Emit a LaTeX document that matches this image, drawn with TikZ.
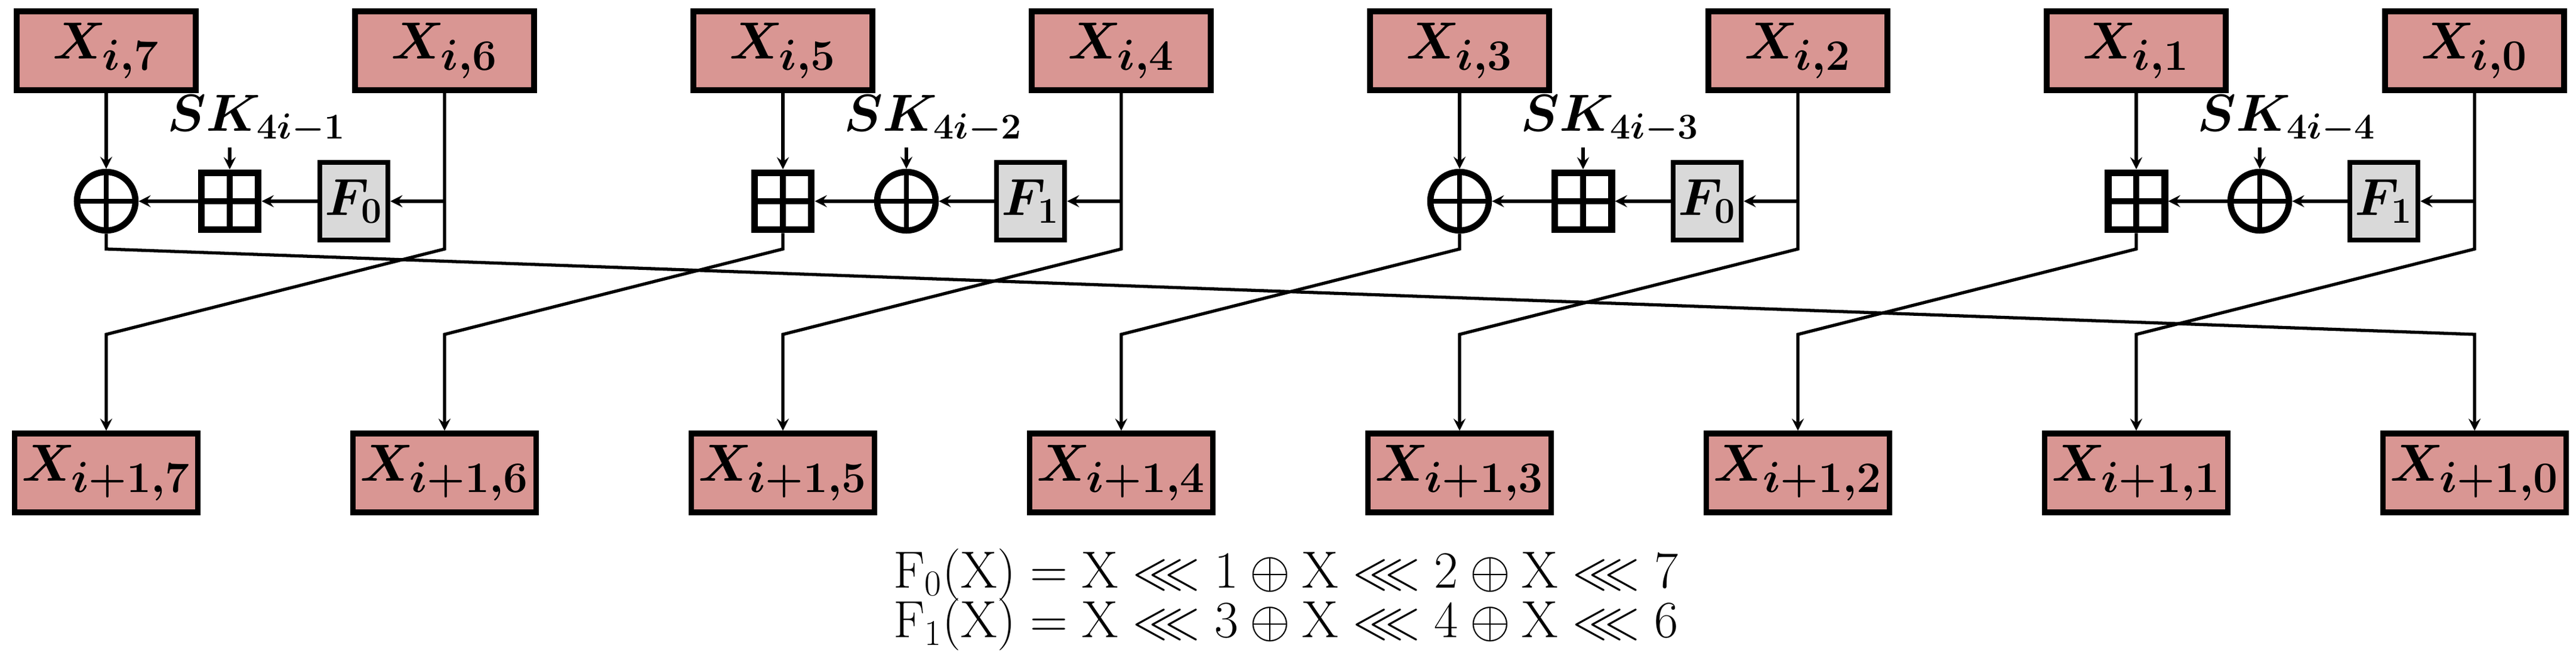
\documentclass[tikz,border=0pt]{standalone}
\usepackage{amsmath,amssymb}
\usepackage{tikz}
\usetikzlibrary{positioning}
\usetikzlibrary{arrows}
\usetikzlibrary{calc}

\definecolor{rose}{RGB}{217,150,147}
\definecolor{fgray}{RGB}{217,217,217}

\begin{document}
\begin{tikzpicture}[>=stealth, line width=1.5pt]

\tikzstyle{word}=[rectangle, draw, line width=2.6pt, fill=rose, minimum width=3cm, minimum height=1.32cm, font=\fontsize{28}{30}\selectfont\boldmath]
\tikzstyle{fbox}=[rectangle, draw, line width=2.4pt, fill=fgray, minimum width=1.14cm, minimum height=1.3cm, inner sep=0pt, font=\fontsize{24}{26}\selectfont\boldmath]
\tikzstyle{xorop}=[circle, draw, line width=3pt, minimum size=0.98cm, inner sep=0pt, path picture={\draw[line width=2.5pt] (path picture bounding box.north) -- (path picture bounding box.south) (path picture bounding box.west) -- (path picture bounding box.east);}]
\tikzstyle{addop}=[rectangle, draw, line width=3.4pt, minimum size=0.95cm, inner sep=0pt, path picture={\draw[line width=3pt] (path picture bounding box.north) -- (path picture bounding box.south) (path picture bounding box.west) -- (path picture bounding box.east);}]
\tikzstyle{key}=[font=\fontsize{24}{26}\selectfont\boldmath, inner sep=1pt]

\useasboundingbox (0,0) rectangle (43.17,11.17);

% input and output words
\foreach \k [evaluate=\k as \n using int(7-\k)] in {0,...,7}{
  \node[word] (t\k) at (1.78+5.67*\k,10.32) {$X_{i,\n}$};
  \node[word] (b\k) at (1.78+5.67*\k,3.25) {$X_{i+1,\n}$};
  \coordinate (up\k) at (1.78+5.67*\k,7.00);
  \coordinate (dn\k) at (1.78+5.67*\k,5.57);
}

% round functions
\foreach \m/\lop/\mop/\f/\s in {0/xorop/addop/0/1,1/addop/xorop/1/2,2/xorop/addop/0/3,3/addop/xorop/1/4}{
  \pgfmathtruncatemacro{\kl}{2*\m}
  \pgfmathtruncatemacro{\kr}{2*\m+1}
  \node[\lop] (l\m) at (1.78+5.67*\kl,7.80) {};
  \node[\mop] (m\m) at (1.78+5.67*\kl+2.07,7.80) {};
  \node[fbox] (f\m) at (1.78+5.67*\kr-1.52,7.80) {$F_{\f}$};
  \node[key] (sk\m) at (1.78+5.67*\kl+2.52,9.17) {$SK_{4i-\s}$};
  \coordinate (ks\m) at (m\m |- sk\m.south);
  \coordinate (br\m) at (1.78+5.67*\kr,7.80);
  \draw[->] (t\kl) -- (l\m);
  \draw[->] (ks\m) -- (m\m);
  \draw[->] (br\m) -- (f\m);
  \draw[->] (f\m) -- (m\m);
  \draw[->] (m\m) -- (l\m);
}

% permutation wires
\draw[->] (l0) -- (up0) -- (dn7) -- (b7);
\draw[->] (t1) -- (up1) -- (dn0) -- (b0);
\draw[->] (l1) -- (up2) -- (dn1) -- (b1);
\draw[->] (t3) -- (up3) -- (dn2) -- (b2);
\draw[->] (l2) -- (up4) -- (dn3) -- (b3);
\draw[->] (t5) -- (up5) -- (dn4) -- (b4);
\draw[->] (l3) -- (up6) -- (dn5) -- (b5);
\draw[->] (t7) -- (up7) -- (dn6) -- (b6);

% definitions
\node[font=\fontsize{24}{26}\selectfont] (def0) at (21.55,1.54) {$\mathrm{F_0(X) = X \lll 1 \oplus X \lll 2 \oplus X \lll 7}$};
\node[font=\fontsize{24}{26}\selectfont] (def1) at (21.55,0.71) {$\mathrm{F_1(X) = X \lll 3 \oplus X \lll 4 \oplus X \lll 6}$};

\end{tikzpicture}
\end{document}
